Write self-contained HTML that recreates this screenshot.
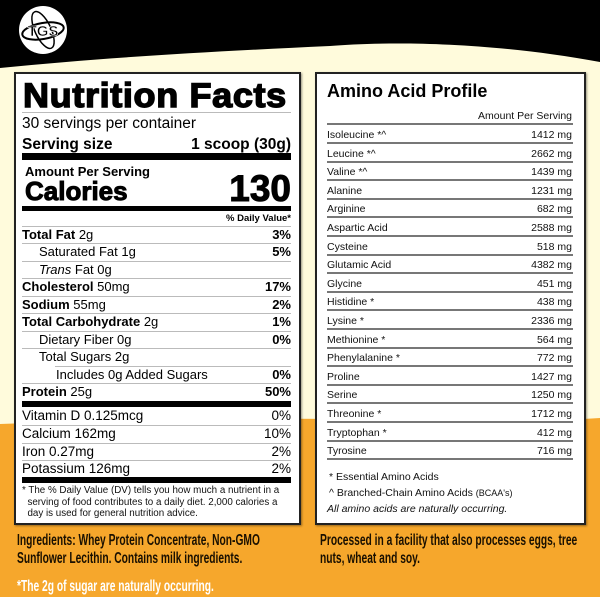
<!DOCTYPE html>
<html><head><meta charset="utf-8"><style>
*{margin:0;padding:0;box-sizing:border-box}
body{width:600px;height:600px;position:relative;overflow:hidden;background:#fffbdc;font-family:"Liberation Sans",Arial,sans-serif;color:#000}
.a{position:absolute;white-space:nowrap}
.panel{position:absolute;background:#fff;border:2px solid #222;box-shadow:1px 1px 2px rgba(0,0,0,.4)}
.ln{position:absolute;background:#bbb;height:1px}
.bar{position:absolute;background:#000}
.row{position:absolute;left:22px;width:269px;height:18px;font-size:13px;line-height:18px}
.row .r{position:absolute;right:0;top:0;font-weight:bold}
.ar{position:absolute;left:327px;width:246px;height:18px;font-size:10.5px;line-height:18px;color:#111;border-bottom:2px solid #777}
.ar span{position:absolute;right:1px}
.cond{font-family:"Liberation Sans Narrow","Liberation Sans",sans-serif;font-weight:bold;font-size:16px;transform-origin:0 0;transform:scaleX(.64)}
.heavy{-webkit-text-stroke:1px #000}
</style></head><body>
<svg class="a" style="left:0;top:0" width="600" height="600">
<path d="M0,0H600V62C480,40 380,42 330,46C200,52 100,58 0,68Z" fill="#000"/>
<path d="M0,424C150,418 300,418 450,420C520,421 570,420 600,418V597H0Z" fill="#f6a72c"/>
<rect x="0" y="597" width="600" height="3" fill="#fff"/>
<circle cx="43" cy="30" r="24" fill="#fff"/>
<ellipse cx="43" cy="31" rx="21" ry="8" fill="none" stroke="#000" stroke-width="2" transform="rotate(-10 43 31)"/>
<ellipse cx="43" cy="30" rx="8" ry="20" fill="none" stroke="#000" stroke-width="1.5" transform="rotate(-25 43 30)"/>
<text x="43" y="36" font-family="Liberation Sans" font-weight="bold" font-size="15" text-anchor="middle" fill="#000" stroke="#fff" stroke-width="0.6">TGS</text>
</svg>

<div class="panel" style="left:14px;top:72px;width:287px;height:453px"></div>
<div class="a heavy" style="left:23px;top:78px;font-size:34px;font-weight:bold;letter-spacing:0.6px;line-height:36px;transform-origin:0 0;transform:scaleX(1.06);-webkit-text-stroke:1.4px #000">Nutrition Facts</div>
<div class="ln" style="left:22px;top:112px;width:269px"></div>
<div class="a" style="left:22px;top:115px;font-size:15.5px;line-height:18px">30 servings per container</div>
<div class="a" style="left:22px;top:136px;font-size:15.5px;line-height:18px;font-weight:bold">Serving size</div>
<div class="a" style="right:309px;top:136px;font-size:15.5px;line-height:18px;font-weight:bold">1 scoop (30g)</div>
<div class="bar" style="left:22px;top:153px;width:269px;height:7px"></div>
<div class="a" style="left:25px;top:164px;font-size:13px;font-weight:bold;line-height:16px">Amount Per Serving</div>
<div class="a heavy" style="left:25px;top:176px;font-size:26px;font-weight:bold;line-height:30px">Calories</div>
<div class="a heavy" style="right:309px;top:170px;font-size:37px;font-weight:bold;line-height:38px">130</div>
<div class="bar" style="left:22px;top:206px;width:269px;height:5px"></div>
<div class="a" style="right:309px;top:212px;font-size:9.5px;font-weight:bold;line-height:13px">% Daily Value*</div>

<div class="ln" style="left:22px;top:226px;width:269px"></div>
<div class="row" style="top:226px"><b>Total Fat</b> 2g<span class="r">3%</span></div>
<div class="ln" style="left:22px;top:243px;width:269px"></div>
<div class="row" style="top:243px;padding-left:17px">Saturated Fat 1g<span class="r">5%</span></div>
<div class="ln" style="left:22px;top:261px;width:269px"></div>
<div class="row" style="top:261px;padding-left:17px"><i>Trans</i> Fat 0g</div>
<div class="ln" style="left:22px;top:278px;width:269px"></div>
<div class="row" style="top:278px"><b>Cholesterol</b> 50mg<span class="r">17%</span></div>
<div class="ln" style="left:22px;top:296px;width:269px"></div>
<div class="row" style="top:296px"><b>Sodium</b> 55mg<span class="r">2%</span></div>
<div class="ln" style="left:22px;top:313px;width:269px"></div>
<div class="row" style="top:313px"><b>Total Carbohydrate</b> 2g<span class="r">1%</span></div>
<div class="ln" style="left:22px;top:331px;width:269px"></div>
<div class="row" style="top:331px;padding-left:17px">Dietary Fiber 0g<span class="r">0%</span></div>
<div class="ln" style="left:22px;top:348px;width:269px"></div>
<div class="row" style="top:348px;padding-left:17px">Total Sugars 2g</div>
<div class="ln" style="left:55px;top:366px;width:236px"></div>
<div class="row" style="top:366px;padding-left:34px">Includes 0g Added Sugars<span class="r">0%</span></div>
<div class="ln" style="left:22px;top:383px;width:269px"></div>
<div class="row" style="top:383px"><b>Protein</b> 25g<span class="r">50%</span></div>
<div class="bar" style="left:22px;top:401px;width:269px;height:6px"></div>
<div class="row" style="top:407px;font-size:13.5px">Vitamin D 0.125mcg<span class="r" style="font-weight:normal">0%</span></div>
<div class="ln" style="left:22px;top:425px;width:269px"></div>
<div class="row" style="top:425px;font-size:13.5px">Calcium 162mg<span class="r" style="font-weight:normal">10%</span></div>
<div class="ln" style="left:22px;top:443px;width:269px"></div>
<div class="row" style="top:443px;font-size:13.5px">Iron 0.27mg<span class="r" style="font-weight:normal">2%</span></div>
<div class="ln" style="left:22px;top:460px;width:269px"></div>
<div class="row" style="top:460px;font-size:13.5px">Potassium 126mg<span class="r" style="font-weight:normal">2%</span></div>
<div class="bar" style="left:22px;top:477px;width:269px;height:6px"></div>
<div class="a" style="left:22px;top:485px;font-size:9.8px;line-height:11.5px;color:#111">* The % Daily Value (DV) tells you how much a nutrient in a<br>&nbsp;&nbsp;serving of food contributes to a daily diet. 2,000 calories a<br>&nbsp;&nbsp;day is used for general nutrition advice.</div>

<div class="panel" style="left:315px;top:72px;width:271px;height:453px"></div>
<div class="a" style="left:327px;top:80px;font-size:18px;font-weight:bold;line-height:22px">Amino Acid Profile</div>
<div class="a" style="right:28px;top:109px;font-size:10.5px;line-height:14px;color:#111">Amount Per Serving</div>
<div class="a" style="left:327px;top:123px;width:246px;height:2px;background:#777"></div>
<div class="ar" style="top:126px">Isoleucine *^<span>1412 mg</span></div>
<div class="ar" style="top:144.6px">Leucine *^<span>2662 mg</span></div>
<div class="ar" style="top:163.2px">Valine *^<span>1439 mg</span></div>
<div class="ar" style="top:181.8px">Alanine<span>1231 mg</span></div>
<div class="ar" style="top:200.4px">Arginine<span>682 mg</span></div>
<div class="ar" style="top:219px">Aspartic Acid<span>2588 mg</span></div>
<div class="ar" style="top:237.6px">Cysteine<span>518 mg</span></div>
<div class="ar" style="top:256.2px">Glutamic Acid<span>4382 mg</span></div>
<div class="ar" style="top:274.8px">Glycine<span>451 mg</span></div>
<div class="ar" style="top:293.4px">Histidine *<span>438 mg</span></div>
<div class="ar" style="top:312px">Lysine *<span>2336 mg</span></div>
<div class="ar" style="top:330.6px">Methionine *<span>564 mg</span></div>
<div class="ar" style="top:349.2px">Phenylalanine *<span>772 mg</span></div>
<div class="ar" style="top:367.8px">Proline<span>1427 mg</span></div>
<div class="ar" style="top:386.4px">Serine<span>1250 mg</span></div>
<div class="ar" style="top:405px">Threonine *<span>1712 mg</span></div>
<div class="ar" style="top:423.6px">Tryptophan *<span>412 mg</span></div>
<div class="ar" style="top:442.2px">Tyrosine<span>716 mg</span></div>
<div class="a" style="left:329px;top:470px;font-size:10.5px;line-height:14px;color:#111">* Essential Amino Acids</div>
<div class="a" style="left:329px;top:486px;font-size:10.5px;line-height:14px;color:#111">^ Branched-Chain Amino Acids <span style="font-size:9px">(BCAA's)</span></div>
<div class="a" style="left:327px;top:502px;font-size:10.5px;line-height:14px;color:#111;font-style:italic">All amino acids are naturally occurring.</div>

<div class="a cond" style="left:17px;top:532px;line-height:18px;color:#1a1000">Ingredients: Whey Protein Concentrate, Non-GMO<br>Sunflower Lecithin. Contains milk ingredients.</div>
<div class="a cond" style="left:320px;top:532px;line-height:18px;color:#1a1000">Processed in a facility that also processes eggs, tree<br>nuts, wheat and soy.</div>
<div class="a cond" style="left:17px;top:578px;line-height:18px;color:#fff">*The 2g of sugar are naturally occurring.</div>
</body></html>
